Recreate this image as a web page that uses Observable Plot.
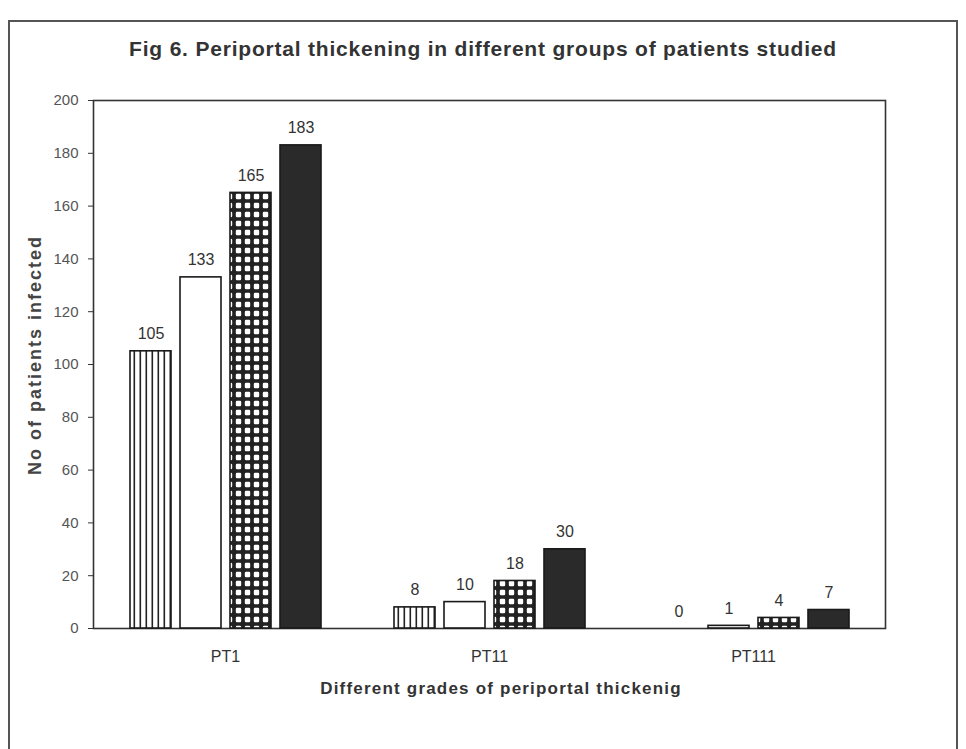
<!DOCTYPE html>
<html>
<head>
<meta charset="utf-8">
<script src="https://cdn.jsdelivr.net/npm/d3@7"></script>
<script src="https://cdn.jsdelivr.net/npm/@observablehq/plot@0.6"></script>
<style>
  html, body { margin: 0; padding: 0; background: #fff; }
  #wrap { position: relative; width: 966px; height: 749px; overflow: hidden; font-family: "Liberation Sans", Arial, sans-serif; color: #333; }
  #border { position: absolute; left: 8px; top: 20px; width: 950px; height: 780px; border: 2px solid #555; box-sizing: border-box; }
  #title { position: absolute; left: 0; width: 966px; top: 37px; text-align: center; font-size: 21px; font-weight: bold; color: #333; letter-spacing: 0.8px; }
  #ylabel { position: absolute; left: 35px; top: 355px; transform: translate(-50%, -50%) rotate(-90deg); white-space: nowrap; font-size: 18px; font-weight: bold; color: #444; letter-spacing: 2px; }
  #xlabel { position: absolute; left: 18px; width: 966px; text-align: center; top: 679px; font-size: 17px; font-weight: bold; color: #333; letter-spacing: 1.2px; }
  #chart { position: absolute; left: 0; top: 75px; }
</style>
</head>
<body>
<div id="wrap">
  <div id="border"></div>
  <div id="title">Fig 6. Periportal thickening in different groups of patients studied</div>
  <div id="ylabel">No of patients infected</div>
  <div id="xlabel">Different grades of periportal thickenig</div>
  <div id="chart"></div>
</div>
<script>
// Categories (grades of periportal thickening)
const groups = ["PT1", "PT11", "PT111"];
// Four patient groups (unnamed in the figure, distinguished by fill pattern)
const series = ["Group 1", "Group 2", "Group 3", "Group 4"];
// Values per series across the categories
const group1 = [105, 8, 0];
const group2 = [133, 10, 1];
const group3 = [165, 18, 4];
const group4 = [183, 30, 7];
// Y tick labels
const yTicks = [0, 20, 40, 60, 80, 100, 120, 140, 160, 180, 200];
// Fills
const fills = ["url(#vstripe)", "#ffffff", "url(#check)", "#2a2a2a"];

const seriesValues = [group1, group2, group3, group4];
const data = [];
groups.forEach((g, gi) => {
  series.forEach((s, si) => {
    data.push({group: g, series: s, value: seriesValues[si][gi]});
  });
});

const plot = Plot.plot({
  width: 966,
  height: 674,
  marginTop: 25,
  marginBottom: 121,
  marginLeft: 93,
  marginRight: 81,
  style: {fontFamily: "'Liberation Sans', Arial, sans-serif", fontSize: "15px", color: "#444", background: "transparent"},
  fx: {domain: groups, padding: 0, label: null},
  x: {domain: series, paddingInner: 0.18, paddingOuter: 0.68, axis: null},
  y: {domain: [0, 200], label: null},
  color: {domain: series, range: fills},
  marks: [
    Plot.frame({facet: "super", stroke: "#333", strokeWidth: 1.6}),
    Plot.barY(data, {fx: "group", x: "series", y: "value", fill: "series", stroke: "#1a1a1a", strokeWidth: 1.6}),
    Plot.text(data, {fx: "group", x: "series", y: "value", text: d => String(d.value), dy: -12, lineAnchor: "bottom", fontSize: 16, fill: "#333"}),
    Plot.axisY({ticks: yTicks, tickSize: 5, tickPadding: 10, label: null, fontSize: 15, stroke: "#333", fill: "#555"}),
    Plot.axisFx({anchor: "bottom", tickSize: 0, tickPadding: 22, label: null, fontSize: 16, fill: "#333"})
  ]
});

// Pattern definitions
const ns = "http://www.w3.org/2000/svg";
const defs = document.createElementNS(ns, "defs");
defs.innerHTML = `
  <pattern id="vstripe" patternUnits="userSpaceOnUse" width="6" height="10">
    <rect width="6" height="10" fill="#fff"/>
    <rect x="1.5" y="0" width="1.6" height="10" fill="#222"/>
  </pattern>
  <pattern id="check" patternUnits="userSpaceOnUse" width="9" height="9">
    <rect width="9" height="9" fill="#222"/>
    <rect x="1.8" y="1.8" width="5.4" height="5.4" rx="1.2" fill="#fff"/>
  </pattern>`;
plot.insertBefore(defs, plot.firstChild);
document.getElementById("chart").appendChild(plot);
</script>
</body>
</html>
